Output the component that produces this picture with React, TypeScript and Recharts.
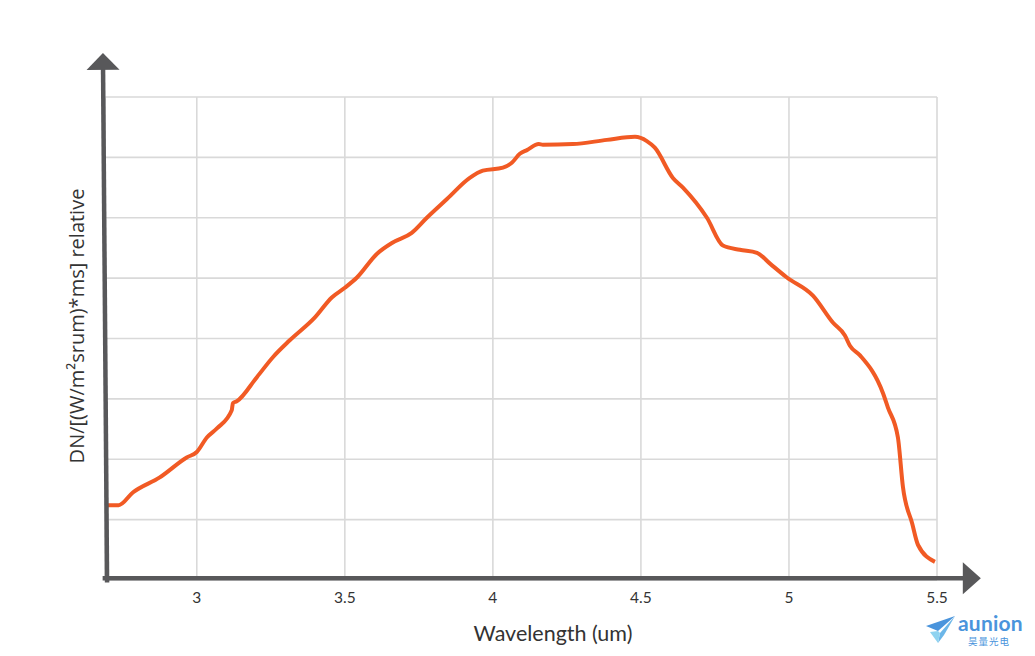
import React from 'react';
import { LineChart, Line, XAxis, YAxis, CartesianGrid, ReferenceLine } from 'recharts';

// wavelength (um) and relative response
const wavelength = [
  2.699, 2.736, 2.784, 2.875, 2.966, 3.0, 3.034, 3.068, 3.118, 3.122, 3.135, 3.203, 3.257, 3.314,
  3.399, 3.456, 3.5, 3.541, 3.608, 3.662, 3.726, 3.777, 3.845, 3.922, 3.966, 4.034, 4.064, 4.091,
  4.115, 4.155, 4.169, 4.27, 4.385, 4.48, 4.52, 4.547, 4.608, 4.642, 4.723, 4.777, 4.834, 4.892,
  4.936, 4.993, 5.081, 5.149, 5.189, 5.206, 5.24, 5.318, 5.334, 5.368, 5.385, 5.416, 5.436, 5.493,
];
const response = [
  1.24, 1.24, 1.45, 1.7, 2.03, 2.12, 2.36, 2.51, 2.81, 2.93, 2.96, 3.36, 3.69, 3.97,
  4.35, 4.68, 4.84, 5.01, 5.4, 5.59, 5.75, 6.0, 6.31, 6.66, 6.78, 6.83, 6.91, 7.06,
  7.12, 7.22, 7.21, 7.22, 7.29, 7.34, 7.27, 7.16, 6.66, 6.5, 6.0, 5.54, 5.47, 5.42,
  5.24, 5.01, 4.71, 4.26, 4.05, 3.88, 3.72, 3.09, 2.86, 2.36, 1.54, 0.94, 0.58, 0.3,
];
const xTicks = [3, 3.5, 4, 4.5, 5, 5.5];
const yTicks = [0, 1, 2, 3, 4, 5, 6, 7, 8];

const data = wavelength.map((w, i) => ({ w, v: response[i] }));

const AXIS = '#58585a';

const ArrowLine = (head: number, half: number) => (props: any) => {
  const { x1, y1, x2, y2 } = props;
  const dx = x2 - x1, dy = y2 - y1;
  const len = Math.sqrt(dx * dx + dy * dy) || 1;
  const ux = dx / len, uy = dy / len;
  const bx = x2 - ux * head, by = y2 - uy * head;
  const px = -uy, py = ux;
  return (
    <g>
      <line x1={x1} y1={y1} x2={bx + ux} y2={by + uy} stroke={AXIS} strokeWidth={4.5} />
      <polygon
        points={`${x2},${y2} ${bx + px * half},${by + py * half} ${bx - px * half},${by - py * half}`}
        fill={AXIS}
      />
    </g>
  );
};

export default function App() {
  return (
    <div style={{ position: 'absolute', left: 0, top: 0, width: 1035, height: 656, background: '#fff' }}>
      <LineChart width={1035} height={656} data={data} margin={{ top: 97, right: 98, bottom: 0, left: 105 }}>
        <CartesianGrid stroke="#d9d9d9" strokeWidth={1.6} />
        <XAxis
          dataKey="w"
          type="number"
          domain={[2.69, 5.5]}
          ticks={xTicks}
          allowDataOverflow
          axisLine={false}
          tickLine={false}
          height={76}
          tickMargin={6}
          tick={{ fill: '#333', fontSize: 15.5, fontFamily: 'Lato, sans-serif' }}
          label={{
            value: 'Wavelength (um)',
            position: 'insideBottom',
            offset: 15,
            dx: 32,
            fill: '#333',
            fontSize: 21.5,
            fontFamily: 'Lato, sans-serif',
          }}
        />
        <YAxis
          type="number"
          domain={[0, 8]}
          ticks={yTicks}
          width={0}
          tick={() => <g />}
          axisLine={false}
          tickLine={false}
        />
        <Line
          type="monotone"
          dataKey="v"
          stroke="#f15a24"
          strokeWidth={4}
          dot={false}
          isAnimationActive={false}
        />
        <ReferenceLine
          segment={[{ x: 2.682, y: 0.03 }, { x: 5.648, y: 0.03 }]}
          ifOverflow="visible"
          shape={ArrowLine(18, 16)}
        />
        <ReferenceLine
          segment={[{ x: 2.697, y: -0.04 }, { x: 2.683, y: 8.73 }]}
          ifOverflow="visible"
          shape={ArrowLine(17, 16.5)}
        />
      </LineChart>
      <svg width={60} height={656} style={{ position: 'absolute', left: 46, top: 0 }}>
        <text
          x={30}
          y={326}
          transform="rotate(-90 30 326)"
          textAnchor="middle"
          dominantBaseline="central"
          fill="#333"
          fontSize={20}
          fontFamily="'Open Sans', sans-serif"
        >
          DN/[(W/m²srum)*ms] relative
        </text>
      </svg>
      <div style={{ position: 'absolute', left: 926, top: 614, width: 109, height: 34 }}>
        <svg width={30} height={28} style={{ position: 'absolute', left: 0, top: 2 }}>
          <polygon points="0,10 29,0 12,15" fill="#4a94dc" />
          <polygon points="29,0 14,17 12,27 18,19" fill="#6cb6e8" />
          <polygon points="4,16 12,15 14,17 12,27" fill="#8fd3f0" />
        </svg>
        <div
          style={{
            position: 'absolute',
            left: 32,
            top: -4,
            fontFamily: 'Lato, sans-serif',
            fontWeight: 700,
            fontSize: 21,
            color: '#4a94dc',
            letterSpacing: 0.2,
          }}
        >
          aunion
        </div>
        <div
          style={{
            position: 'absolute',
            left: 42,
            top: 20,
            fontFamily: "'Noto Sans CJK SC', sans-serif",
            fontSize: 9.5,
            color: '#4a94dc',
            letterSpacing: 1,
          }}
        >
          昊量光电
        </div>
      </div>
    </div>
  );
}
